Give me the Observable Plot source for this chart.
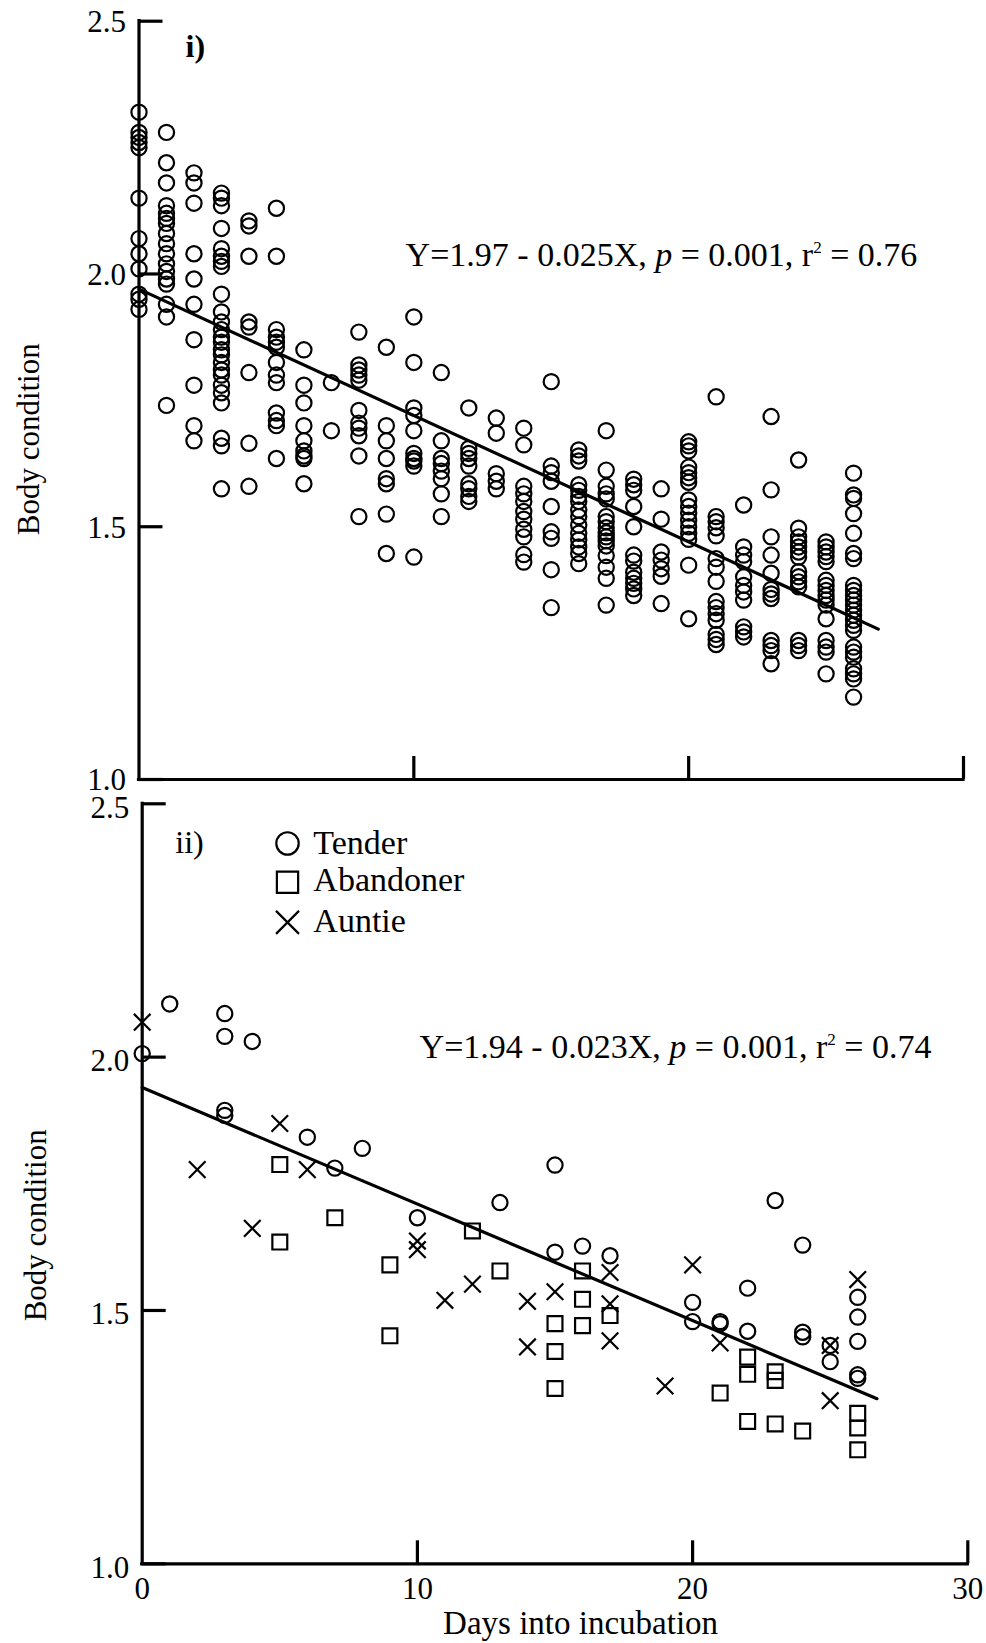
<!DOCTYPE html>
<html>
<head>
<meta charset="utf-8">
<script src="https://cdn.jsdelivr.net/npm/d3@7"></script>
<script src="https://cdn.jsdelivr.net/npm/@observablehq/plot@0.6"></script>
<style>
  html, body { margin: 0; padding: 0; background: #fff; overflow: hidden; }
  #chart { position: relative; width: 986px; height: 1643px; }
  #chart svg { position: absolute; left: 0; }
</style>
</head>
<body>
<div id="chart"></div>
<script>
const FONT = "'Liberation Serif', 'Times New Roman', Times, serif";

// Axis ticks
const xTicks = [0, 10, 20, 30];
const yTicks = [1.0, 1.5, 2.0, 2.5];

// Panel i): body condition of every bird, listed by day into incubation (index = day)
const panelICondition = [
  [2.32, 2.28, 2.27, 2.26, 2.25, 2.15, 2.07, 2.04, 2.01, 1.96, 1.95, 1.93],
  [2.28, 2.22, 2.18, 2.135, 2.12, 2.11, 2.10, 2.08, 2.06, 2.04, 2.02, 2.005, 1.99, 1.98, 1.94, 1.915, 1.74],
  [2.20, 2.18, 2.14, 2.04, 1.99, 1.94, 1.87, 1.78, 1.70, 1.67],
  [2.16, 2.15, 2.135, 2.09, 2.05, 2.035, 2.025, 2.015, 1.96, 1.925, 1.905, 1.89, 1.875, 1.865, 1.85, 1.84, 1.825, 1.81, 1.80, 1.78, 1.765, 1.745, 1.675, 1.66, 1.575],
  [2.105, 2.095, 2.035, 1.905, 1.895, 1.805, 1.665, 1.58],
  [2.13, 2.035, 1.89, 1.875, 1.865, 1.855, 1.825, 1.80, 1.785, 1.725, 1.71, 1.70, 1.635],
  [1.85, 1.78, 1.745, 1.70, 1.67, 1.65, 1.64, 1.635, 1.585],
  [1.785, 1.69],
  [1.885, 1.82, 1.81, 1.80, 1.79, 1.73, 1.705, 1.695, 1.68, 1.64, 1.52],
  [1.855, 1.70, 1.67, 1.635, 1.595, 1.585, 1.525, 1.447],
  [1.915, 1.825, 1.735, 1.72, 1.69, 1.645, 1.635, 1.63, 1.62, 1.44],
  [1.805, 1.67, 1.635, 1.625, 1.61, 1.595, 1.565, 1.52],
  [1.735, 1.655, 1.645, 1.635, 1.62, 1.585, 1.575, 1.56, 1.55],
  [1.715, 1.685, 1.605, 1.59, 1.575],
  [1.695, 1.662, 1.58, 1.565, 1.55, 1.53, 1.515, 1.495, 1.48, 1.445, 1.43],
  [1.787, 1.62, 1.607, 1.59, 1.54, 1.49, 1.477, 1.415, 1.34],
  [1.652, 1.64, 1.63, 1.583, 1.572, 1.56, 1.55, 1.533, 1.52, 1.503, 1.487, 1.474, 1.46, 1.447, 1.427],
  [1.69, 1.612, 1.58, 1.565, 1.555, 1.52, 1.51, 1.498, 1.488, 1.48, 1.472, 1.462, 1.443, 1.42, 1.398, 1.345],
  [1.594, 1.583, 1.572, 1.54, 1.50, 1.444, 1.432, 1.41, 1.398, 1.388, 1.377, 1.364],
  [1.575, 1.515, 1.45, 1.434, 1.417, 1.402, 1.348],
  [1.668, 1.66, 1.65, 1.618, 1.607, 1.597, 1.588, 1.553, 1.54, 1.527, 1.513, 1.5, 1.487, 1.475, 1.424, 1.318],
  [1.757, 1.52, 1.51, 1.498, 1.482, 1.437, 1.42, 1.392, 1.352, 1.34, 1.328, 1.315, 1.287, 1.277, 1.267],
  [1.543, 1.46, 1.444, 1.431, 1.401, 1.384, 1.371, 1.355, 1.302, 1.292, 1.282],
  [1.718, 1.573, 1.48, 1.444, 1.408, 1.376, 1.367, 1.358, 1.275, 1.265, 1.255, 1.229],
  [1.632, 1.497, 1.48, 1.47, 1.46, 1.45, 1.44, 1.411, 1.401, 1.391, 1.381, 1.275, 1.265, 1.255],
  [1.47, 1.46, 1.45, 1.441, 1.431, 1.394, 1.384, 1.374, 1.364, 1.355, 1.345, 1.318, 1.275, 1.262, 1.252, 1.209],
  [1.606, 1.563, 1.556, 1.526, 1.487, 1.447, 1.437, 1.384, 1.374, 1.364, 1.355, 1.345, 1.335, 1.325, 1.315, 1.305, 1.295, 1.262, 1.252, 1.242, 1.219, 1.209, 1.199, 1.163]
];

// Panel ii): birds split by breeding strategy
const strategies = ["Tender", "Abandoner", "Auntie"];
const strategySymbols = ["circle", "square", "times"];

const tenderDays      = [0, 1, 3, 3, 3, 3, 4, 6, 7, 8, 10, 13, 15, 15, 16, 17, 20, 20, 21, 21, 22, 22, 23, 24, 24, 24, 25, 25, 26, 26, 26, 26, 26];
const tenderCondition = [2.007, 2.105, 2.086, 2.041, 1.895, 1.885, 2.031, 1.842, 1.781, 1.82, 1.683, 1.713, 1.787, 1.615, 1.627, 1.608, 1.516, 1.478, 1.478, 1.474, 1.544, 1.459, 1.717, 1.629, 1.457, 1.448, 1.431, 1.399, 1.526, 1.487, 1.439, 1.373, 1.366];

const abandonerDays      = [5, 5, 7, 9, 9, 12, 13, 15, 15, 15, 16, 16, 16, 17, 21, 22, 22, 22, 23, 23, 23, 24, 26, 26, 26];
const abandonerCondition = [1.788, 1.635, 1.683, 1.59, 1.45, 1.657, 1.578, 1.474, 1.419, 1.346, 1.578, 1.522, 1.47, 1.49, 1.337, 1.408, 1.374, 1.281, 1.379, 1.362, 1.276, 1.262, 1.297, 1.268, 1.225];

const auntieDays      = [0, 2, 4, 5, 6, 10, 10, 11, 12, 14, 14, 15, 17, 17, 17, 19, 20, 21, 25, 25, 26];
const auntieCondition = [2.069, 1.778, 1.662, 1.869, 1.778, 1.637, 1.62, 1.52, 1.552, 1.518, 1.428, 1.537, 1.575, 1.513, 1.44, 1.351, 1.59, 1.436, 1.431, 1.322, 1.561];

// Least-squares fits reported for each panel
const fitIntercept = [1.97, 1.94];
const fitSlope     = [-0.025, -0.023];
const fitP         = [0.001, 0.001];
const fitR2        = [0.76, 0.74];
const fitLastDay   = [26.9, 26.7];

// ---- tidy rows built from the arrays above ----
const panelIRows = panelICondition.flatMap((vals, day) => vals.map(v => ({day, bc: v})));
const panelIIRows = [
  ...tenderDays.map((d, i) => ({day: d, bc: tenderCondition[i], strategy: strategies[0]})),
  ...abandonerDays.map((d, i) => ({day: d, bc: abandonerCondition[i], strategy: strategies[1]})),
  ...auntieDays.map((d, i) => ({day: d, bc: auntieCondition[i], strategy: strategies[2]}))
];

const fitLine = k => [0, fitLastDay[k]].map(day => ({day, bc: fitIntercept[k] + fitSlope[k] * day}));
const fitText = k => `Y=${fitIntercept[k].toFixed(2)} - ${(-fitSlope[k]).toFixed(3)}X, p = ${fitP[k].toFixed(3)}, r2 = ${fitR2[k].toFixed(2)}`;

const symbolOf = s => strategySymbols[strategies.indexOf(s)];
const sizeOf = {circle: 7.6, square: 8.4, times: 7.6};
const legendSizeOf = {circle: 11.2, square: 12, times: 10.5};

// Shared frame: L-shaped axes with inward ticks
function frameMarks(labelX, labelDy) {
  const line = {strokeWidth: 3.2, strokeLinecap: "square"};
  return [
    Plot.ruleX([xTicks[0]], {y1: yTicks[0], y2: yTicks[yTicks.length - 1], ...line}),
    Plot.ruleY([yTicks[0]], {x1: xTicks[0], x2: xTicks[xTicks.length - 1], ...line}),
    Plot.axisY({ticks: yTicks, tickSize: -24, strokeWidth: 3.2, fill: null, label: null}),
    Plot.axisY({ticks: yTicks, tickSize: 0, tickPadding: 13, tickFormat: d3.format(".1f"), fontSize: 31, dy: labelDy, label: null}),
    Plot.axisX({ticks: xTicks.slice(1), tickSize: -23, strokeWidth: 3.2, fill: null, label: null}),
    labelX
      ? Plot.axisX({ticks: xTicks, tickSize: 0, tickPadding: 13, tickFormat: d3.format("d"), fontSize: 31, label: null})
      : null
  ];
}

function equationMark(k, x, y) {
  return Plot.text([fitText(k)], {x: () => x, y: () => y, text: d => d, textAnchor: "start", lineAnchor: "middle", fontSize: 34});
}

// Italic p and raised 2 in the equation
function typesetEquations(svg) {
  d3.select(svg).selectAll("text").each(function () {
    const s = this.textContent;
    if (!s.startsWith("Y=")) return;
    const m = s.match(/^(.*, )p( = .*, r)2( = .*)$/);
    if (!m) return;
    const t = d3.select(this);
    t.text(null);
    t.append("tspan").text(m[1]);
    t.append("tspan").attr("font-style", "italic").text("p");
    t.append("tspan").text(m[2]);
    t.append("tspan").attr("font-size", 17).attr("dy", -13).text("2");
    t.append("tspan").attr("dy", 13).text(m[3]);
  });
}

const common = {
  width: 986,
  marginLeft: 138.5,
  x: {domain: [0, 30], label: null},
  y: {domain: [1.0, 2.5], label: null},
  style: {fontFamily: FONT, background: "transparent", overflow: "visible", color: "#000"}
};

const yTitle = (y, dx) => Plot.text(["Body condition"], {
  frameAnchor: "left", y: () => y, text: d => d, rotate: -90,
  textAnchor: "middle", lineAnchor: "middle", dx, fontSize: 31
});

// ---------- panel i ----------
const plotI = Plot.plot({
  ...common,
  height: 790,
  marginTop: 20.7,
  marginBottom: 11,
  marginRight: 23,
  marks: [
    ...frameMarks(false, 1),
    Plot.line(fitLine(0), {x: "day", y: "bc", stroke: "#000", strokeWidth: 3.2}),
    Plot.dot(panelIRows, {x: "day", y: "bc", r: sizeOf.circle, stroke: "#000", strokeWidth: 2.2, fill: "none"}),
    equationMark(0, 9.7, 2.038),
    Plot.text(["i)"], {x: () => 2.05, y: () => 2.449, text: d => d, fontSize: 32, fontWeight: "bold"}),
    yTitle(1.673, -110)
  ]
});
plotI.style.top = "0px";
typesetEquations(plotI);

// ---------- panel ii ----------
const legendY = [2.4217, 2.345, 2.266];
const legendTextY = [2.422, 2.35, 2.2675];

const plotII = Plot.plot({
  ...common,
  height: 863,
  marginTop: 23.3,
  marginBottom: 79.7,
  marginRight: 18.7,
  marginLeft: 141.7,
  marks: [
    ...frameMarks(true, 4),
    Plot.line(fitLine(1), {x: "day", y: "bc", stroke: "#000", strokeWidth: 3.2}),
    ...strategySymbols.map(sym =>
      Plot.dot(panelIIRows.filter(d => symbolOf(d.strategy) === sym),
        {x: "day", y: "bc", symbol: () => sym, r: sizeOf[sym], stroke: "#000", strokeWidth: 2.2, fill: "none"})
    ),
    // legend
    ...strategySymbols.map((sym, i) =>
      Plot.dot([strategies[i]], {x: () => 5.28, y: () => legendY[i], symbol: () => sym, r: legendSizeOf[sym], stroke: "#000", strokeWidth: 2.2, fill: "none"})
    ),
    Plot.text(strategies, {x: () => 6.22, y: (d, i) => legendTextY[i], text: d => d, textAnchor: "start", fontSize: 34}),
    equationMark(1, 10.08, 2.020),
    Plot.text(["ii)"], {x: () => 1.72, y: () => 2.423, text: d => d, fontSize: 32}),
    yTitle(1.668, -106.5),
    Plot.text(["Days into incubation"], {frameAnchor: "bottom", x: () => 15.93, text: d => d, textAnchor: "middle", lineAnchor: "middle", dy: 60, fontSize: 33})
  ]
});
plotII.style.top = "780px";
typesetEquations(plotII);

const chart = document.getElementById("chart");
chart.append(plotI, plotII);
</script>
</body>
</html>
